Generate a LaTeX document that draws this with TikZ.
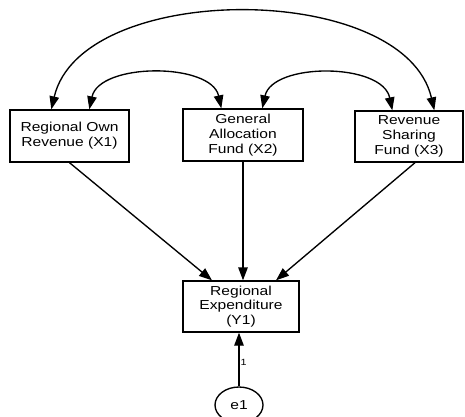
\documentclass[tikz,border=0pt]{standalone}
\usepackage{fontspec}
\setmainfont{Liberation Sans}[FakeStretch=1.2]
\usetikzlibrary{arrows.meta,shapes.geometric}
\tikzset{
  var/.style={draw, line width=1.35pt, rectangle, inner sep=0pt, align=center,
    font=\fontsize{13}{14.8}\selectfont},
  err/.style={draw, line width=1.35pt, ellipse, inner sep=0pt,
    minimum width=48pt, minimum height=36pt,
    font=\fontsize{13}{14.8}\selectfont},
  path/.style={line width=1.35pt, -{Triangle[length=13pt,width=9.5pt]}},
  cov/.style={line width=1.35pt, {Triangle[length=13pt,width=9.5pt]}-{Triangle[length=13pt,width=9.5pt]}},
  weight/.style={font=\fontsize{9}{10}\selectfont, inner sep=1pt}
}
\begin{document}
\begin{tikzpicture}[x=1pt, y=-1pt]
\useasboundingbox[fill=white] (0,0) rectangle (465,416);

% observed exogenous variables
\node[var, minimum width=119pt, minimum height=52pt] (X1) at (69.5,136) {Regional Own\\Revenue (X1)};
\node[var, minimum width=120pt, minimum height=52pt] (X2) at (243,135) {General\\Allocation\\Fund (X2)};
\node[var, minimum width=108pt, minimum height=51pt] (X3) at (409,136.5) {Revenue\\Sharing\\Fund (X3)};

% endogenous variable and its error term
\node[var, minimum width=116pt, minimum height=51pt] (Y1) at (241,306.5) {Regional\\Expenditure\\(Y1)};
\node[err] (e1) at (239,405) {e1};

% covariances
\draw[cov] ([xshift=42pt]X1.north west) .. controls +(30,-129) and +(-30,-130) .. ([xshift=80pt]X3.north west);
\draw[cov] ([xshift=80pt]X1.north west) .. controls +(10,-47) and +(-10,-46) .. ([xshift=39pt]X2.north west);
\draw[cov] ([xshift=80pt]X2.north west) .. controls +(10,-46) and +(-10,-48) .. ([xshift=38pt]X3.north west);

% regression paths
\draw[path] (X1.south) -- ([xshift=-29pt]Y1.north);
\draw[path] (X2.south) -- (X2.south |- Y1.north);
\draw[path] ([xshift=6pt]X3.south) -- ([xshift=35pt]Y1.north);
\draw[path] (e1.north) -- node[weight, pos=0.45, right] {1} (e1.north |- Y1.south);
\end{tikzpicture}
\end{document}
